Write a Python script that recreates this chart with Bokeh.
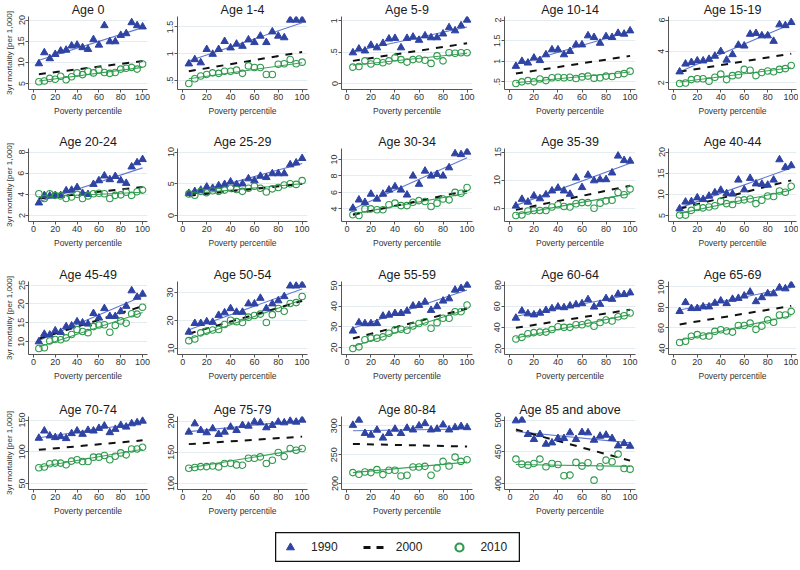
from bokeh.plotting import figure
from bokeh.layouts import column, row
from bokeh.models import Range1d, FixedTicker, Spacer, Legend, LegendItem, ColumnDataSource
from bokeh.embed import file_html
from bokeh.resources import INLINE

# ---------------- data ----------------
pct = [5, 10, 15, 20, 25, 30, 35, 40, 45, 50, 55, 60, 65, 70, 75, 80, 85, 90, 95, 100]

titles = ["Age 0", "Age 1-4", "Age 5-9", "Age 10-14", "Age 15-19",
          "Age 20-24", "Age 25-29", "Age 30-34", "Age 35-39", "Age 40-44",
          "Age 45-49", "Age 50-54", "Age 55-59", "Age 60-64", "Age 65-69",
          "Age 70-74", "Age 75-79", "Age 80-84", "Age 85 and above"]

yticks = [[5, 10, 15, 20], [0.5, 1, 1.5], [0, 0.5, 1], [0.5, 1, 1.5, 2], [2, 4, 6],
          [2, 4, 6, 8], [0, 5, 10], [4, 6, 8, 10], [5, 10, 15], [5, 10, 15, 20],
          [10, 15, 20, 25], [10, 20, 30], [20, 30, 40, 50], [20, 40, 60, 80], [40, 60, 80, 100],
          [50, 100, 150], [100, 150, 200], [200, 250, 300], [400, 450, 500]]
ylabels = [["5", "10", "15", "20"], [".5", "1", "1.5"], ["0", ".5", "1"], [".5", "1", "1.5", "2"], ["2", "4", "6"],
           ["2", "4", "6", "8"], ["0", "5", "10"], ["4", "6", "8", "10"], ["5", "10", "15"], ["5", "10", "15", "20"],
           ["10", "15", "20", "25"], ["10", "20", "30"], ["20", "30", "40", "50"], ["20", "40", "60", "80"], ["40", "60", "80", "100"],
           ["50", "100", "150"], ["100", "150", "200"], ["200", "250", "300"], ["400", "450", "500"]]
xticks = [0, 20, 40, 60, 80, 100]

m1990 = [
    [9.7, 12.3, 10.9, 11.9, 12.7, 12.9, 13.9, 14.1, 13.5, 13.1, 15.4, 14.1, 18.7, 14.9, 14.9, 16.4, 16.8, 19.4, 18.7, 18.4],
    [0.81, 0.89, 0.83, 1.08, 0.99, 1.08, 1.23, 1.11, 1.18, 1.14, 1.26, 1.21, 1.33, 1.21, 1.41, 1.33, 1.30, 1.63, 1.63, 1.63],
    [0.49, 0.55, 0.52, 0.61, 0.57, 0.64, 0.71, 0.72, 0.57, 0.72, 0.74, 0.69, 0.76, 0.73, 0.73, 0.79, 0.89, 0.84, 0.92, 1.01],
    [0.88, 1.0, 0.96, 1.08, 1.02, 1.16, 1.28, 1.28, 1.16, 1.24, 1.40, 1.40, 1.62, 1.58, 1.44, 1.60, 1.58, 1.68, 1.66, 1.74],
    [2.7, 3.2, 3.3, 3.4, 3.4, 3.5, 3.7, 4.0, 3.45, 3.8, 4.4, 4.35, 5.1, 5.15, 5.0, 5.0, 4.65, 5.7, 5.65, 5.85],
    [3.2, 3.9, 3.85, 3.9, 3.9, 4.35, 4.4, 4.65, 4.1, 4.0, 4.95, 5.3, 5.75, 5.4, 5.7, 5.3, 5.05, 6.6, 7.0, 7.3],
    [3.5, 3.8, 4.0, 4.5, 4.3, 4.7, 4.9, 5.3, 4.9, 5.0, 5.8, 5.5, 6.2, 6.0, 6.6, 6.6, 6.6, 8.0, 8.3, 9.0],
    [4.1, 5.1, 4.8, 5.8, 5.2, 5.8, 6.3, 6.7, 6.3, 5.7, 8.0, 7.0, 8.6, 8.0, 8.2, 8.0, 9.0, 10.7, 10.6, 10.9],
    [5.4, 6.6, 6.1, 7.2, 6.7, 7.4, 8.1, 8.6, 8.1, 7.5, 10.4, 8.7, 10.9, 9.9, 10.1, 10.1, 11.3, 14.3, 13.5, 13.4],
    [6.6, 8.2, 8.3, 9.2, 8.8, 9.6, 10.4, 11.0, 10.2, 10.1, 13.4, 11.1, 13.8, 12.5, 12.4, 12.2, 13.4, 18.2, 16.4, 16.8],
    [10.0, 12.0, 11.8, 12.9, 12.5, 14.0, 14.2, 15.3, 15.0, 14.7, 17.5, 16.3, 18.8, 16.7, 16.7, 18.0, 19.4, 23.5, 21.8, 22.6],
    [15.9, 19.0, 19.0, 19.6, 19.4, 21.9, 22.8, 24.3, 23.0, 23.0, 26.0, 26.0, 28.0, 24.3, 26.0, 27.1, 28.6, 32.4, 32.4, 32.7],
    [28.0, 32.0, 31.6, 31.6, 31.7, 35.2, 35.7, 36.5, 36.5, 37.6, 40.1, 40.4, 42.0, 38.0, 39.8, 42.5, 43.6, 47.8, 48.6, 50.2],
    [48.8, 55.5, 52.9, 51.9, 53.5, 56.1, 57.7, 59.3, 58.7, 60.3, 61.5, 62.5, 66.3, 59.3, 61.9, 67.3, 66.6, 71.4, 71.1, 72.7],
    [76.2, 84.9, 79.1, 79.1, 80.7, 80.7, 84.2, 86.5, 83.9, 88.1, 89.0, 91.3, 95.1, 85.8, 89.7, 93.5, 93.5, 99.3, 98.3, 101.9],
    [121.5, 132.9, 125.1, 122.5, 124.1, 121.0, 128.8, 132.9, 127.7, 133.9, 132.9, 137.0, 140.7, 130.3, 135.5, 141.7, 139.1, 144.3, 145.9, 148.4],
    [182.4, 195.7, 185.1, 181.4, 187.8, 178.7, 182.4, 190.4, 185.1, 193.1, 192.0, 198.4, 197.3, 189.4, 193.1, 198.4, 197.3, 200.0, 198.4, 201.6],
    [301, 310, 287, 284, 292.6, 278.9, 286.9, 294.3, 286.9, 296, 293, 300, 304, 293, 294.3, 301.7, 293, 297, 298.9, 297],
    [498.9, 500, 477.4, 469.5, 477.4, 462.1, 464.2, 471.1, 471.1, 480, 469.5, 480.5, 480, 468.4, 474.7, 476.3, 471.1, 459.5, 463.2, 458.9],
]

m2010 = [
    [5.4, 5.6, 6.2, 6.0, 6.7, 5.9, 6.6, 7.5, 7.1, 7.9, 7.5, 8.2, 7.6, 7.4, 7.6, 8.4, 8.6, 8.8, 8.4, 9.6],
    [0.44, 0.53, 0.58, 0.61, 0.64, 0.63, 0.67, 0.67, 0.69, 0.63, 0.77, 0.74, 0.74, 0.61, 0.61, 0.80, 0.81, 0.89, 0.81, 0.84],
    [0.26, 0.27, 0.36, 0.31, 0.35, 0.33, 0.36, 0.41, 0.38, 0.34, 0.38, 0.39, 0.37, 0.32, 0.44, 0.36, 0.49, 0.48, 0.49, 0.49],
    [0.46, 0.50, 0.53, 0.50, 0.57, 0.53, 0.60, 0.61, 0.60, 0.61, 0.58, 0.62, 0.64, 0.59, 0.60, 0.64, 0.63, 0.68, 0.70, 0.76],
    [1.95, 1.98, 2.20, 2.25, 2.25, 2.10, 2.35, 2.55, 2.20, 2.45, 2.50, 2.85, 2.80, 2.45, 2.65, 2.75, 2.70, 2.85, 2.90, 3.10],
    [4.05, 3.6, 4.05, 3.9, 3.85, 3.6, 3.75, 4.0, 3.6, 3.85, 4.05, 4.1, 4.05, 3.6, 3.9, 3.95, 4.2, 3.9, 4.25, 4.4],
    [3.4, 3.2, 3.8, 3.6, 3.9, 3.8, 4.0, 4.3, 4.1, 3.8, 4.3, 4.6, 4.3, 3.7, 4.2, 4.4, 4.8, 5.0, 4.9, 5.5],
    [3.3, 3.2, 4.0, 4.0, 3.9, 3.9, 4.5, 4.7, 4.4, 4.4, 4.8, 5.0, 4.9, 4.3, 4.7, 5.2, 5.1, 6.0, 5.9, 6.6],
    [3.7, 3.8, 4.5, 4.6, 4.6, 4.6, 5.2, 5.6, 5.3, 5.2, 5.8, 6.0, 6.0, 5.0, 5.9, 6.3, 6.4, 7.8, 7.4, 8.4],
    [5.1, 5.1, 6.2, 6.9, 6.8, 7.0, 7.3, 8.4, 7.8, 7.6, 8.6, 8.7, 8.9, 7.8, 8.6, 9.6, 9.5, 10.8, 10.5, 11.9],
    [8.2, 8.4, 10.2, 10.6, 10.5, 11.0, 11.9, 13.2, 12.7, 12.4, 14.0, 14.4, 14.5, 12.5, 14.3, 15.5, 14.9, 17.4, 17.3, 19.1],
    [12.8, 13.4, 15.6, 16.2, 16.6, 16.8, 18.6, 20.1, 19.6, 19.3, 21.2, 21.8, 22.3, 19.3, 22.1, 24.3, 23.3, 26.1, 26.4, 28.6],
    [19.5, 20.3, 23.7, 24.5, 24.5, 25.1, 26.9, 28.5, 28.8, 28.3, 30.4, 31.6, 32.4, 29.3, 32.0, 34.1, 34.1, 37.3, 37.3, 40.5],
    [29.0, 30.5, 34.0, 35.0, 35.5, 35.5, 38.0, 40.5, 40.0, 40.0, 42.5, 42.5, 44.0, 41.0, 44.5, 47.0, 46.0, 50.0, 51.0, 53.5],
    [45.8, 47.0, 51.9, 53.5, 52.2, 52.2, 56.7, 58.3, 57.0, 56.0, 62.4, 62.4, 64.7, 58.6, 61.8, 67.9, 65.6, 72.7, 72.7, 76.2],
    [74.9, 75.9, 81.1, 82.1, 82.1, 79.5, 85.2, 87.3, 84.7, 84.7, 91.5, 91.5, 94.0, 87.3, 93.0, 98.2, 95.1, 104.4, 104.4, 107.0],
    [124.5, 125.5, 127.0, 127.0, 128.0, 126.6, 131.9, 132.4, 129.8, 129.3, 140.4, 140.4, 142.6, 131.9, 137.2, 149.5, 143.1, 155.9, 153.2, 155.9],
    [218.9, 216, 220, 218.9, 224, 215.4, 222.9, 222.9, 213.1, 214.3, 228.6, 228.6, 229.7, 214.3, 226.9, 238.3, 230.3, 245.7, 238.3, 241.1],
    [438.4, 430.5, 428.9, 431.6, 438.4, 426.3, 431.6, 430.0, 412.1, 413.2, 433.2, 427.4, 432.6, 405.3, 426.3, 436.8, 434.2, 446.3, 423.7, 422.6],
]

# fitted lines: value at first and last percentile
fit1990 = [(10.5, 18.2), (0.86, 1.58), (0.505, 0.90), (0.92, 1.72), (2.7, 5.75),
           (3.3, 6.5), (3.3, 8.2), (4.0, 10.2), (5.5, 13.0), (6.8, 16.2),
           (10.3, 22.0), (16.7, 31.3), (29.3, 47.8), (50.5, 70.5), (77.5, 99.5),
           (122, 146), (183, 201), (291.4, 294.3), (482, 464)]
fit2000 = [(7.2, 10.3), (0.67, 1.03), (0.36, 0.64), (0.70, 1.13), (2.7, 3.85),
           (3.6, 4.7), (3.1, 5.0), (3.3, 6.2), (4.7, 9.0), (6.6, 13.3),
           (10.8, 19.4), (15.3, 27.0), (24.3, 38.9), (39.5, 56.7), (63.5, 81.5),
           (103, 118), (163, 175), (268.6, 264), (485, 436)]
fit2010 = [(5.6, 8.8), (0.53, 0.83), (0.29, 0.48), (0.48, 0.74), (2.05, 2.95),
           (3.75, 4.2), (3.4, 5.0), (3.4, 5.9), (3.9, 7.6), (5.5, 11.0),
           (8.6, 17.7), (13.3, 27.4), (20.5, 38.5), (30, 52), (48, 72),
           (76, 104), (125, 155), (218.9, 237.1), (430, 427)]

series_names = ["1990", "2000", "2010"]

# ---------------- style ----------------
FONT = "Liberation Sans"
C90 = "#2f43a3"
C90L = "#6078d2"
C10 = "#2e9a4c"
C10L = "#3aa358"
C00 = "#111111"
GRID = "#e4ecef"
AXC = "#555555"

col_bl = [28, 22, 21, 20, 21]
col_fw = [119, 130, 131, 131, 128]
col_br = [8, 13, 12, 12, 2]
row_top = [14, 14, 14, 14]
row_bot = [43, 44, 46, 43]
FRAME_H = 73


def make_panel(i, r, c):
    lo = min(yticks[i][0], min(m1990[i]), min(m2010[i]))
    hi = max(yticks[i][-1], max(m1990[i]), max(m2010[i]))
    upp = (hi - lo) / (FRAME_H - 9.5)
    p = figure(frame_width=col_fw[c], frame_height=FRAME_H,
               output_backend="svg", toolbar_location=None,
               x_range=Range1d(-4.5, 104.5), y_range=Range1d(lo - 6 * upp, hi + 3.5 * upp),
               min_border_left=col_bl[c], min_border_right=col_br[c],
               min_border_top=row_top[r], min_border_bottom=row_bot[r], title=titles[i])
    p.outline_line_color = None
    p.background_fill_color = "white"
    p.title.text_font = FONT
    p.title.text_font_size = "12.5px"
    p.title.text_font_style = "normal"
    p.title.text_color = "#1a1a1a"
    p.title.align = "center"
    p.title.standoff = 0
    p.title.offset = 0

    p.xaxis.ticker = FixedTicker(ticks=xticks)
    p.yaxis.ticker = FixedTicker(ticks=yticks[i])
    p.yaxis.major_label_overrides = {float(t): l for t, l in zip(yticks[i], ylabels[i])}
    p.yaxis.major_label_orientation = "vertical"
    p.xgrid.visible = False
    p.ygrid.ticker = FixedTicker(ticks=yticks[i])
    p.ygrid.grid_line_color = GRID
    p.ygrid.grid_line_width = 1
    for ax in (p.xaxis[0], p.yaxis[0]):
        ax.axis_line_color = AXC
        ax.major_tick_line_color = AXC
        ax.major_tick_out = 3
        ax.major_tick_in = 0
        ax.minor_tick_line_color = None
        ax.major_label_text_font = FONT
        ax.major_label_text_font_size = "9px"
        ax.major_label_text_color = "#333333"
        ax.major_label_standoff = 1
        ax.axis_label_text_font = FONT
        ax.axis_label_text_font_style = "normal"
        ax.axis_label_text_color = "#333333"
    p.xaxis.axis_label = "Poverty percentile"
    p.xaxis.axis_label_text_font_size = "8.5px"
    p.xaxis.axis_label_standoff = 3
    if c == 0:
        p.yaxis.axis_label = "3yr mortality [per 1,000]"
        p.yaxis.axis_label_text_font_size = "8px"
        p.yaxis.axis_label_standoff = 2

    xe = [pct[0], pct[-1]]
    p.line(xe, list(fit1990[i]), line_color=C90L, line_width=1.1)
    p.line(xe, list(fit2010[i]), line_color=C10L, line_width=1.1)
    p.line(xe, list(fit2000[i]), line_color=C00, line_width=2, line_dash="7 7")
    p.scatter(pct, m1990[i], marker="triangle", size=7.5, fill_color=C90, line_color=C90)
    p.scatter(pct, m2010[i], marker="circle", size=6.5, fill_color=None, line_color=C10, line_width=1.1)
    return p


rows = []
idx = 0
for r in range(4):
    figs = []
    for c in range(5):
        if idx < len(titles):
            figs.append(make_panel(idx, r, c))
            idx += 1
    rows.append(row(*figs, spacing=0))

# ---------------- legend ----------------
lg = figure(width=245, height=30, output_backend="svg", toolbar_location=None,
            x_range=Range1d(-2, -1), y_range=Range1d(-2, -1),
            min_border=0, min_border_left=0, min_border_right=0, min_border_top=0, min_border_bottom=0)
lg.axis.visible = False
lg.grid.visible = False
lg.outline_line_color = "#111111"
lg.outline_line_width = 1.5
src90 = ColumnDataSource(dict(x=[pct[0]], y=[m1990[0][0]]))
src00 = ColumnDataSource(dict(x=[pct[0], pct[-1]], y=list(fit2000[0])))
src10 = ColumnDataSource(dict(x=[pct[0]], y=[m2010[0][0]]))
r90 = lg.scatter("x", "y", source=src90, marker="triangle", size=14, fill_color=C90, line_color=C90)
r00 = lg.line("x", "y", source=src00, line_color=C00, line_width=3, line_dash="7 6")
r10 = lg.scatter("x", "y", source=src10, marker="circle", size=11, fill_color=None, line_color=C10, line_width=2.2)
legend = Legend(items=[LegendItem(label=series_names[0], renderers=[r90]),
                       LegendItem(label=series_names[1], renderers=[r00]),
                       LegendItem(label=series_names[2], renderers=[r10])],
                orientation="horizontal", location=(3, 5),
                border_line_alpha=0, background_fill_alpha=0,
                label_text_font=FONT, label_text_font_size="12px", label_text_color="#222222",
                glyph_width=24, glyph_height=20, spacing=25, padding=0, margin=0,
                label_standoff=9, label_height=20)
lg.add_layout(legend, "center")

legend_row = row(Spacer(width=275, height=30), lg, spacing=0)

layout = column(*rows, legend_row, spacing=0)

open("out.html", "w").write(file_html(layout, INLINE))
